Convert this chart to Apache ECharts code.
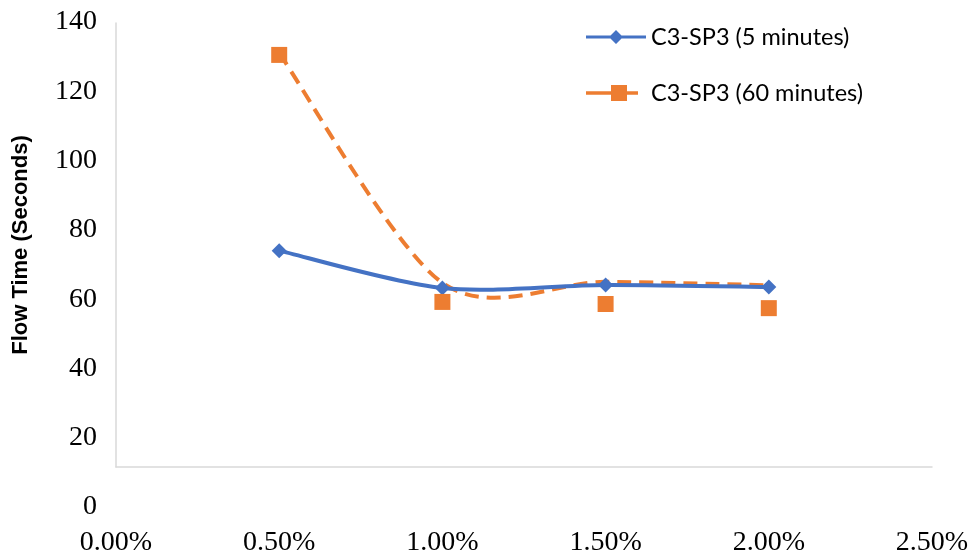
<!DOCTYPE html>
<html>
<head>
<meta charset="utf-8">
<script src="https://cdn.jsdelivr.net/npm/echarts@6/dist/echarts.min.js"></script>
<style>
  html, body { margin: 0; padding: 0; background: #fff; }
  #chart { width: 977px; height: 557px; }
</style>
</head>
<body>
<div id="chart"></div>
<script>
// Polymer concentration (fraction) on the horizontal axis
const concentrations = [0.005, 0.010, 0.015, 0.020];
// Flow time (s) for the 5-minute series
const flow5min = [74, 63.2, 64.1, 63.5];
// Flow time (s) for the 60-minute series: smoothed trend line and measured points
const flow60minLine = [131, 64.7, 65, 64];
const flow60minPoints = [130.5, 59.2, 58.6, 57.4];
// Axis tick values
const xTicks = [0, 0.005, 0.010, 0.015, 0.020, 0.025];
const yTicks = [0, 20, 40, 60, 80, 100, 120, 140];

const name5 = 'C3-SP3 (5 minutes)';
const name60 = 'C3-SP3 (60 minutes)';
const blue = '#4472C4';
const orange = '#ED7D31';
const serif = '"Liberation Serif", "Times New Roman", serif';
const sans = 'Lato, "Liberation Sans", sans-serif';

const pairs = (xs, ys) => xs.map((x, i) => [x, ys[i]]);

// Cardinal-spline smoothing (spreadsheet style): each point gets tangent (next - prev) * k
function splinePath(pts, k) {
  let d = 'M' + pts[0][0] + ',' + pts[0][1];
  for (let i = 0; i < pts.length - 1; i++) {
    const p0 = pts[Math.max(i - 1, 0)];
    const p1 = pts[i];
    const p2 = pts[i + 1];
    const p3 = pts[Math.min(i + 2, pts.length - 1)];
    const c1x = p1[0] + (p2[0] - p0[0]) * k;
    const c1y = p1[1] + (p2[1] - p0[1]) * k;
    const c2x = p2[0] - (p3[0] - p1[0]) * k;
    const c2y = p2[1] - (p3[1] - p1[1]) * k;
    d += ' C' + c1x + ',' + c1y + ' ' + c2x + ',' + c2y + ' ' + p2[0] + ',' + p2[1];
  }
  return d;
}

// Custom series that strokes one smoothed curve through every data point
function curveSeries(name, xs, ys, color, dash, z) {
  return {
    name: name,
    type: 'custom',
    xAxisIndex: 0, yAxisIndex: 0,
    data: pairs(xs, ys),
    itemStyle: { color: color },
    z: z,
    silent: true,
    renderItem: function (params, api) {
      if (params.dataIndex !== 0) return null;
      const pts = xs.map((x, i) => api.coord([x, ys[i]]));
      return {
        type: 'path',
        shape: { pathData: splinePath(pts, 0.15) },
        style: {
          fill: 'none',
          stroke: color,
          lineWidth: 4,
          lineDash: dash,
          lineCap: 'butt',
          lineJoin: 'round'
        }
      };
    }
  };
}

// Legend glyphs: a line with the series marker on it
const iconDiamondLine = 'path://M0,6.5 H60 V9.5 H0 Z M30,1 L37,8 L30,15 L23,8 Z';
const iconSquareDash = 'path://M0,6.2 H26 V9.8 H0 Z M25,0 H41 V16 H25 Z M40,6.2 H52 V9.8 H40 Z M60,8 L60,8.01 Z';

const chart = echarts.init(document.getElementById('chart'), null, { renderer: 'canvas' });
chart.setOption({
  animation: false,
  backgroundColor: '#fff',
  grid: [
    // value grid: scale and tick labels
    { left: 116, right: 45, top: 22, bottom: 50 },
    // framing grid: visible axis lines and axis title
    { left: 116, right: 45, top: 23, bottom: 90 }
  ],
  legend: {
    orient: 'vertical',
    left: 581,
    top: 20,
    itemWidth: 60,
    itemHeight: 16,
    itemGap: 32,
    data: [
      { name: name5, icon: iconDiamondLine },
      { name: name60, icon: iconSquareDash }
    ],
    textStyle: { fontFamily: sans, fontSize: 23.5, lineHeight: 24, color: '#000' }
  },
  xAxis: [
    {
      type: 'value', gridIndex: 0,
      min: xTicks[0], max: xTicks[xTicks.length - 1], interval: 0.005,
      axisLine: { show: false }, axisTick: { show: false }, splitLine: { show: false },
      axisLabel: {
        margin: 22,
        fontFamily: serif, fontSize: 28, color: '#000',
        formatter: v => (v * 100).toFixed(2) + '%'
      }
    },
    {
      type: 'value', gridIndex: 1, min: 0, max: 1,
      axisLine: { show: true, lineStyle: { color: '#d9d9d9', width: 1.5 } },
      axisTick: { show: false }, axisLabel: { show: false }, splitLine: { show: false }
    }
  ],
  yAxis: [
    {
      type: 'value', gridIndex: 0,
      min: yTicks[0], max: yTicks[yTicks.length - 1], interval: 20,
      axisLine: { show: false }, axisTick: { show: false }, splitLine: { show: false },
      axisLabel: { margin: 19, fontFamily: serif, fontSize: 28, color: '#000' }
    },
    {
      type: 'value', gridIndex: 1, min: 0, max: 1,
      name: 'Flow Time (Seconds)',
      nameLocation: 'middle',
      nameGap: 84,
      nameTextStyle: { fontFamily: '"Liberation Sans", sans-serif', fontWeight: 'bold', fontSize: 22, color: '#000' },
      axisLine: { show: true, lineStyle: { color: '#d9d9d9', width: 1.5 } },
      axisTick: { show: false }, axisLabel: { show: false }, splitLine: { show: false }
    }
  ],
  series: [
    curveSeries(name5, concentrations, flow5min, blue, null, 3),
    curveSeries(name60, concentrations, flow60minLine, orange, [14, 8], 2),
    {
      name: name5,
      type: 'scatter',
      xAxisIndex: 0, yAxisIndex: 0,
      data: pairs(concentrations, flow5min),
      symbol: 'diamond',
      symbolSize: 15,
      itemStyle: { color: blue, opacity: 1 },
      z: 4
    },
    {
      name: name60,
      type: 'scatter',
      xAxisIndex: 0, yAxisIndex: 0,
      data: pairs(concentrations, flow60minPoints),
      symbol: 'rect',
      symbolSize: 16,
      itemStyle: { color: orange, opacity: 1 },
      z: 4
    }
  ]
});
</script>
</body>
</html>
